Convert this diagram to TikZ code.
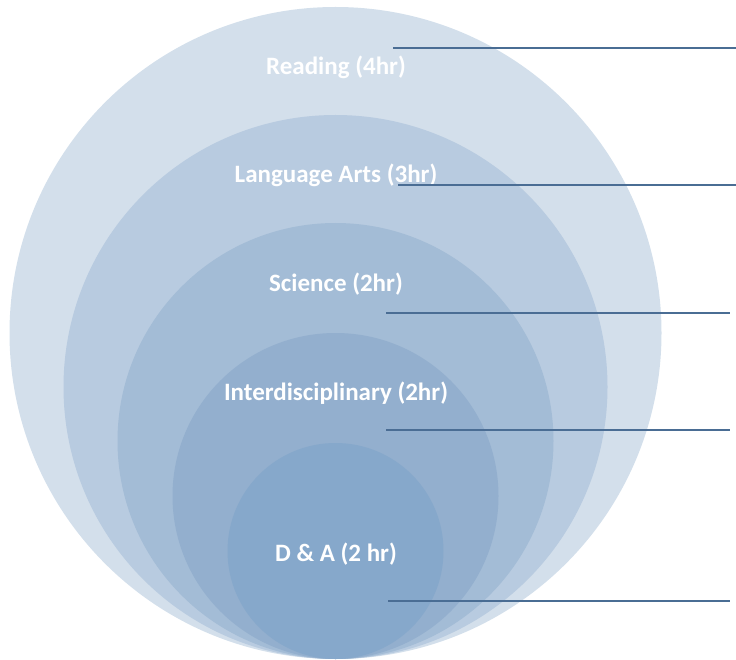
\documentclass[tikz,border=0pt]{standalone}
\usepackage{fontspec}
\setmainfont{Carlito}
\usepackage{tikz}
\usepackage{xcolor}

\definecolor{ringa}{HTML}{D3DFEB}
\definecolor{ringb}{HTML}{B8CBE0}
\definecolor{ringc}{HTML}{A3BCD6}
\definecolor{ringd}{HTML}{93AFCE}
\definecolor{ringe}{HTML}{86A8CB}
\definecolor{leader}{HTML}{4A6D94}

\tikzset{
  subject/.style={text=white, font=\bfseries\fontsize{25}{30}\selectfont, inner sep=0pt},
  leaderline/.style={leader, line width=1.3pt}
}

\begin{document}
\begin{tikzpicture}[x=1pt,y=-1pt]
\useasboundingbox (0,0) rectangle (736,660);
% nested rings, all touching at the bottom
\foreach \r/\c in {326/ringa,272/ringb,218/ringc,163/ringd,108/ringe}
\fill [\c] (335.5,659-\r) circle [radius=\r pt];
% labels
\node [subject] (reading) at (336,67) {Reading (4hr)};
\node [subject] (langarts) at (336,175) {Language Arts (3hr)};
\node [subject] (science) at (336,284) {Science (2hr)};
\node [subject] (interdisc) at (336,393) {Interdisciplinary (2hr)};
\node [subject] (dna) at (336,554) {D \& A (2 hr)};
% leader lines
\coordinate (reading0) at (393,48);
\coordinate (reading1) at (736,48);
\coordinate (langarts0) at (398,185);
\coordinate (langarts1) at (736,185);
\coordinate (science0) at (386,313);
\coordinate (science1) at (730,313);
\coordinate (interdisc0) at (386,430);
\coordinate (interdisc1) at (730,430);
\coordinate (dna0) at (388,601);
\coordinate (dna1) at (730,601);
\foreach \n in {reading,langarts,science,interdisc,dna}
\draw [leaderline] (\n0) -- (\n1);
\end{tikzpicture}
\end{document}
